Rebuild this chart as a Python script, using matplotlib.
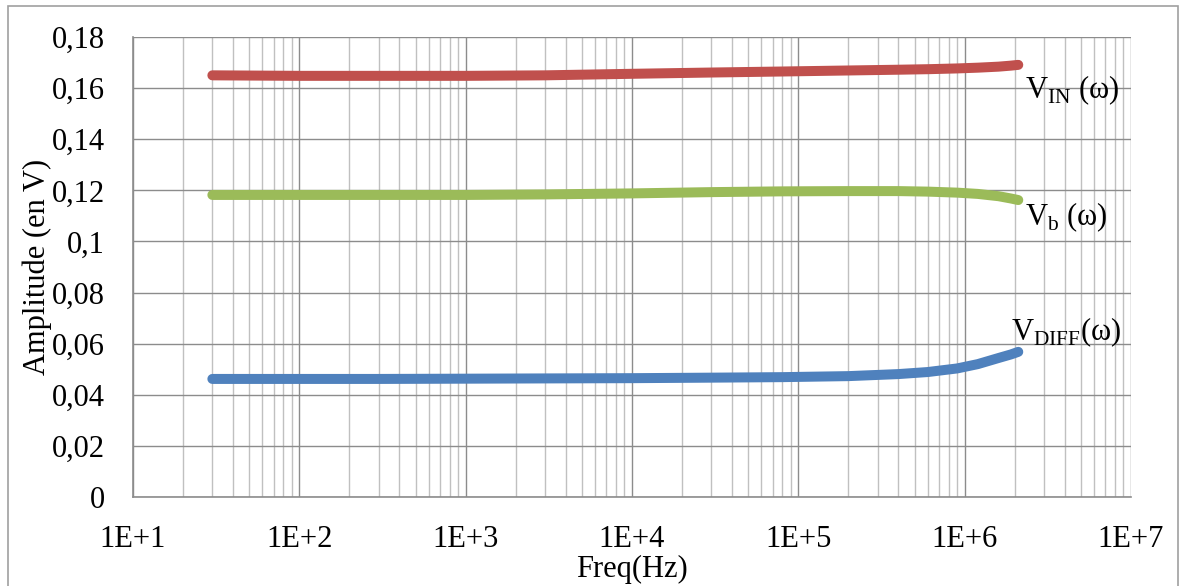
import numpy as np
import matplotlib
matplotlib.use('Agg')
import matplotlib.pyplot as plt
from matplotlib.ticker import LogLocator, FixedLocator, FuncFormatter
from matplotlib.patches import Rectangle

# Frequency points (Hz) and amplitudes
freq = [30, 100, 300, 1e3, 3e3, 1e4, 3e4, 8e4, 2e5, 4e5, 6e5, 9e5, 1.2e6, 1.6e6, 1.9e6, 2.1e6]
v_in = [0.1650, 0.1648, 0.1648, 0.1648, 0.1650, 0.1656, 0.1661, 0.1665, 0.1669, 0.1672, 0.1674, 0.1677,
        0.1680, 0.1684, 0.1688, 0.1691]
v_b = [0.1182, 0.1182, 0.1182, 0.1182, 0.1184, 0.1188, 0.1193, 0.1196, 0.1197, 0.1197, 0.1195, 0.1191,
       0.1186, 0.1177, 0.1168, 0.1162]
v_diff = [0.0462, 0.0462, 0.0462, 0.0463, 0.0464, 0.0465, 0.0467, 0.0469, 0.0473, 0.0481, 0.0489, 0.0503,
          0.0520, 0.0544, 0.0558, 0.0568]

plt.rcParams['font.family'] = ['Liberation Serif', 'DejaVu Serif']

fig = plt.figure(figsize=(11.9, 5.86), dpi=100)
ax = fig.add_axes([133/1190, 89/586, 998/1190, 460/586])

# light border round the chart area
fig.patches.append(Rectangle((8/1190, -0.01), 1170/1190, 1.0 - 6/586 + 0.01,
                             transform=fig.transFigure, fill=False,
                             edgecolor='#a0a0a0', linewidth=1.2))

colors = ['#c0504d', '#9bbb59', '#4f81bd']
for vals, c in zip([v_in, v_b, v_diff], colors):
    ax.plot(freq, vals, color=c, linewidth=7.2, solid_capstyle='round',
            solid_joinstyle='round', zorder=3)

ax.set_xscale('log')
ax.set_xlim(10, 1e7)
ax.set_ylim(0, 0.18)
ax.yaxis.set_major_locator(FixedLocator(np.arange(0, 0.181, 0.02)))
ax.xaxis.set_major_locator(LogLocator(base=10, numticks=10))
ax.xaxis.set_minor_locator(LogLocator(base=10, subs=np.arange(2, 10), numticks=100))

ax.xaxis.set_major_formatter(FuncFormatter(lambda v, p: '1E+%d' % round(np.log10(v))))
ax.yaxis.set_major_formatter(FuncFormatter(lambda v, p: ('%g' % round(v, 2)).replace('.', ',')))

ax.grid(True, which='major', color='#8c8c8c', linewidth=1.0)
ax.grid(True, which='minor', axis='x', color='#c0c0c0', linewidth=1.0)
ax.set_axisbelow(True)
for s in ['top', 'right']:
    ax.spines[s].set_visible(False)
for s in ['left', 'bottom']:
    ax.spines[s].set_color('#8c8c8c')
    ax.spines[s].set_linewidth(1.2)

ax.tick_params(which='both', length=0, labelsize=22)
ax.tick_params(axis='x', pad=20)
ax.tick_params(axis='y', pad=20)

ax.set_xlabel('Freq(Hz)', fontsize=22, labelpad=1)
ax.set_ylabel('Amplitude (en V)', fontsize=22, labelpad=0)

ax.text(2.3e6, 0.1590, r'V$_{\mathregular{IN}}$ (ω)', fontsize=22, ha='left', va='center')
ax.text(2.3e6, 0.1095, r'V$_{\mathregular{b}}$ (ω)', fontsize=22, ha='left', va='center')
ax.text(1.9e6, 0.0645, r'V$_{\mathregular{DIFF}}$(ω)', fontsize=22, ha='left', va='center')

fig.savefig('out.png', dpi=100)
